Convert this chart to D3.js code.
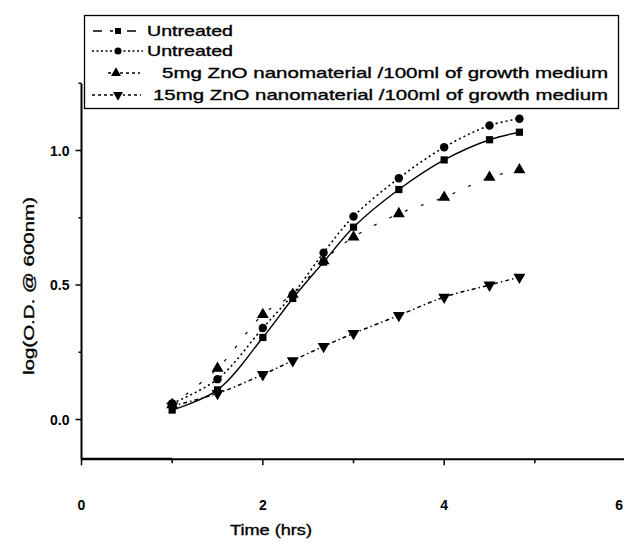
<!DOCTYPE html>
<html>
<head>
<meta charset="utf-8">
<script src="https://cdn.jsdelivr.net/npm/d3@7"></script>
<style>
  html, body { margin: 0; padding: 0; background: #fff; overflow: hidden; }
  svg { display: block; font-family: "Liberation Sans", Arial, sans-serif; }
</style>
</head>
<body>
<svg id="chart" width="624" height="544"></svg>
<script>
// ---- data ----
const times = [1, 1.5, 2, 2.33, 2.67, 3, 3.5, 4, 4.5, 4.83];
const untreatedA = [0.035, 0.11, 0.305, 0.45, 0.585, 0.715, 0.855, 0.965, 1.04, 1.068];
const untreatedB = [0.06, 0.15, 0.34, 0.465, 0.62, 0.755, 0.897, 1.012, 1.093, 1.118];
const zno5 = [0.055, 0.19, 0.39, 0.465, 0.59, 0.678, 0.765, 0.826, 0.90, 0.928];
const zno15 = [0.05, 0.097, 0.167, 0.219, 0.272, 0.32, 0.387, 0.455, 0.50, 0.529];
const seriesNames = ["Untreated", "Untreated",
  "5mg ZnO nanomaterial /100ml of growth medium",
  "15mg ZnO nanomaterial /100ml of growth medium"];
const xTicks = [0, 2, 4, 6];
const yTicks = [0.0, 0.5, 1.0];
const xLabel = "Time (hrs)";
const yLabel = "log(O.D. @ 600nm)";

// ---- layout ----
const svg = d3.select("#chart");
const x = d3.scaleLinear().domain([0, 6]).range([81.5, 625.5]);
const y = d3.scaleLinear().domain([0, 1]).range([419.5, 150.5]);
const yBottom = -0.148, yTop = 1.248;

const series = [
  {name: seriesNames[0], vals: untreatedA, sym: d3.symbolSquare, size: 52, dash: null, w: 1.4},
  {name: seriesNames[1], vals: untreatedB, sym: d3.symbolCircle, size: 56, dash: "2,3", w: 1.6},
  {name: seriesNames[2], vals: zno5, sym: d3.symbolTriangle, size: 62, dash: "3,14", w: 1.2},
  {name: seriesNames[3], vals: zno15, sym: d3.symbolTriangle, size: 62, dash: "4,3,1.5,3", w: 1.5, down: true}
];

const line = d3.line().x(d => x(d[0])).y(d => y(d[1])).curve(d3.curveCatmullRom.alpha(0.5));

series.forEach(s => {
  const pts = times.map((t, i) => [t, s.vals[i]]);
  svg.append("path")
    .attr("d", line(pts))
    .attr("fill", "none")
    .attr("stroke", "#000")
    .attr("stroke-width", s.w)
    .attr("stroke-dasharray", s.dash);
});
series.forEach(s => {
  const sym = d3.symbol().type(s.sym).size(s.size);
  svg.append("g").selectAll("path")
    .data(times.map((t, i) => [t, s.vals[i]]))
    .join("path")
    .attr("d", sym)
    .attr("transform", d => `translate(${x(d[0])},${y(d[1])})${s.down ? " rotate(180)" : ""}`)
    .attr("fill", "#000");
});

// ---- axes ----
const yAxisG = svg.append("g").attr("transform", `translate(${x(0)},0)`);
yAxisG.append("line").attr("x1", 0).attr("x2", 0)
  .attr("y1", y(yTop)).attr("y2", y(yBottom))
  .attr("stroke", "#000").attr("stroke-width", 2);
const yMinor = d3.range(-0.0, 1.26, 0.25).filter(v => !yTicks.some(t => Math.abs(t - v) < 1e-6));
yMinor.forEach(v => {
  yAxisG.append("line").attr("x1", -3).attr("x2", 0).attr("y1", y(v)).attr("y2", y(v))
    .attr("stroke", "#000").attr("stroke-width", 1.5);
});
yTicks.forEach(v => {
  yAxisG.append("line").attr("x1", -6).attr("x2", 0).attr("y1", y(v)).attr("y2", y(v))
    .attr("stroke", "#000").attr("stroke-width", 1.5);
  yAxisG.append("text").attr("x", -12).attr("y", y(v)).attr("dy", "0.36em")
    .attr("text-anchor", "end").attr("font-size", 14).attr("font-weight", "bold")
    .text(d3.format(".1f")(v));
});

const xAxisG = svg.append("g").attr("transform", `translate(0,${y(yBottom)})`);
xAxisG.append("line").attr("x1", x(0)).attr("x2", x(6))
  .attr("y1", 0).attr("y2", 0).attr("stroke", "#000").attr("stroke-width", 2);
xAxisG.append("line").attr("x1", x(0)).attr("x2", x(1))
  .attr("y1", -0.5).attr("y2", -0.5).attr("stroke", "#000").attr("stroke-width", 2);
d3.range(0, 7, 1).forEach(v => {
  const major = xTicks.includes(v);
  xAxisG.append("line").attr("x1", x(v)).attr("x2", x(v))
    .attr("y1", 0).attr("y2", major ? 6 : 4)
    .attr("stroke", "#000").attr("stroke-width", 1.5);
});
xTicks.forEach(v => {
  const t = xAxisG.append("text").attr("y", 51)
    .attr("font-size", 14).attr("font-weight", "bold")
    .text(v);
  if (v === 6) t.attr("x", 623).attr("text-anchor", "end");
  else t.attr("x", x(v)).attr("text-anchor", "middle");
});

// axis titles
svg.append("text").attr("x", 271).attr("y", 535)
  .attr("text-anchor", "middle").attr("font-size", 14)
  .attr("stroke", "#000").attr("stroke-width", 0.35)
  .attr("textLength", 82).attr("lengthAdjust", "spacingAndGlyphs")
  .text(xLabel);
svg.append("text").attr("transform", "translate(34,286) rotate(-90)")
  .attr("text-anchor", "middle").attr("font-size", 15)
  .attr("stroke", "#000").attr("stroke-width", 0.35)
  .attr("textLength", 178).attr("lengthAdjust", "spacingAndGlyphs")
  .text(yLabel);

// ---- legend ----
const lg = svg.append("g");
lg.append("rect").attr("x", 84.5).attr("y", 15.5).attr("width", 534).attr("height", 93)
  .attr("fill", "#fff").attr("stroke", "#000").attr("stroke-width", 1.3);
const legendRows = [31, 51, 73, 95];
const textX = [147, 147, 162, 153];
const textLen = [86, 86, 446, 455];
const lineSpans = [[93, 143], [92, 143], [108, 140], [92, 141]];
series.forEach((s, i) => {
  const yy = legendRows[i];
  lg.append("line").attr("x1", lineSpans[i][0]).attr("x2", lineSpans[i][1])
    .attr("y1", yy).attr("y2", yy).attr("stroke", "#000").attr("stroke-width", 1.4)
    .attr("stroke-dasharray", i === 0 ? "9,8" : i === 1 ? "2,2.5" : "3,3");
  const sym = d3.symbol().type(s.sym).size(s.size * 0.7);
  lg.append("rect").attr("x", 113).attr("y", yy - 5).attr("width", 10).attr("height", 10).attr("fill", "#fff")
    .attr("opacity", i === 2 ? 0 : 1);
  lg.append("path").attr("d", sym)
    .attr("transform", `translate(${i === 2 ? 116 : 118},${yy})${s.down ? " rotate(180)" : ""}`)
    .attr("fill", "#000");
  lg.append("text").attr("x", textX[i]).attr("y", yy).attr("dy", "0.36em")
    .attr("font-size", 15).attr("stroke", "#000").attr("stroke-width", 0.35)
    .attr("textLength", textLen[i]).attr("lengthAdjust", "spacingAndGlyphs")
    .text(s.name);
});
</script>
</body>
</html>
